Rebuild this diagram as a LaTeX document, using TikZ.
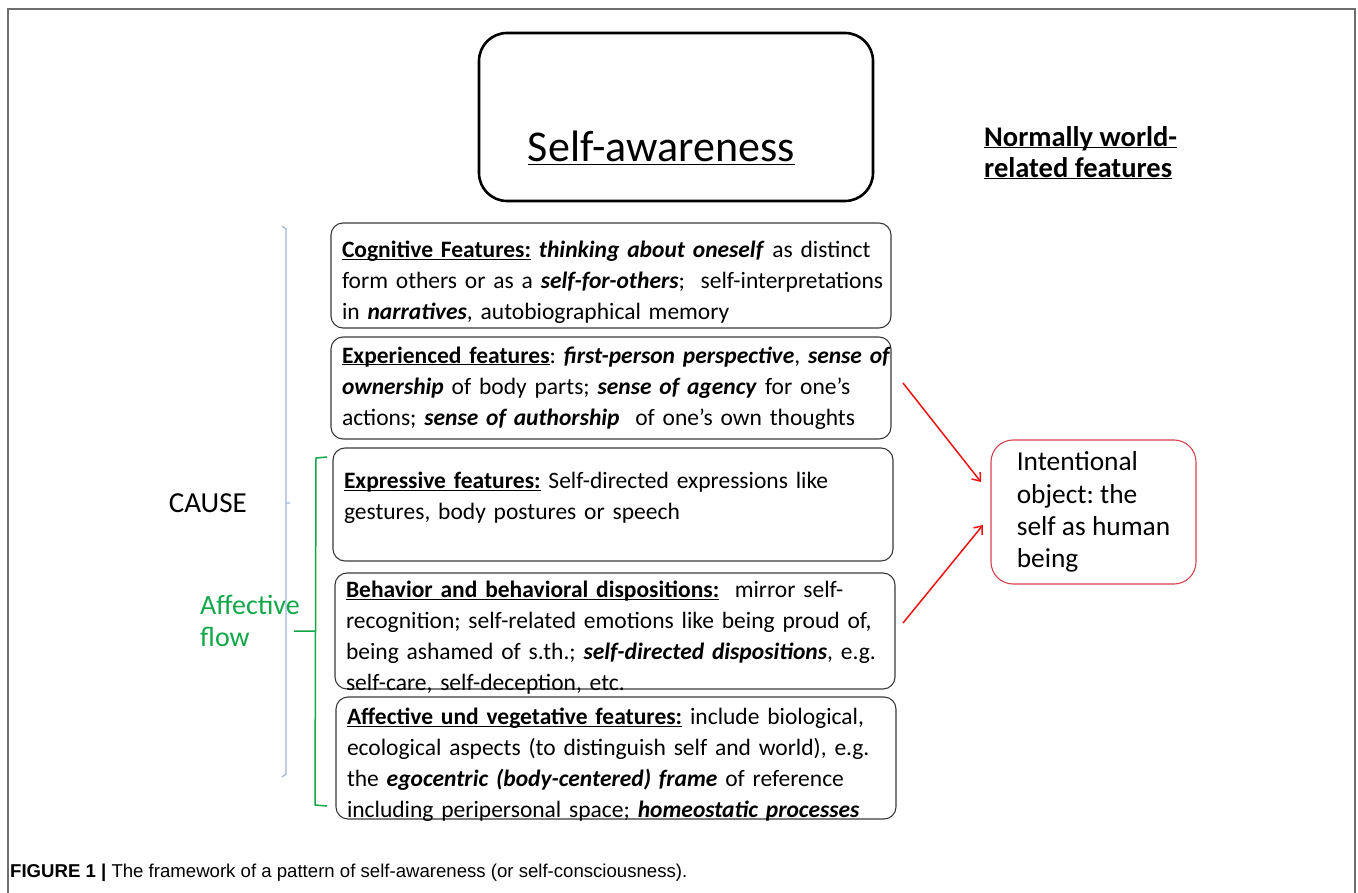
\documentclass[tikz,border=0pt]{standalone}
\usepackage{fontspec}
\setmainfont{Carlito}
\newfontfamily\capfont{Liberation Sans}
\usepackage{tikz}
\usetikzlibrary{arrows.meta}
\frenchspacing

\definecolor{rahmengrau}{HTML}{6E6E6E}
\definecolor{boxgrau}{HTML}{3A3A3A}
\definecolor{objektrot}{HTML}{D2424E}
\definecolor{pfeilrot}{HTML}{EE1111}
\definecolor{ursacheblau}{HTML}{9DB7D8}
\definecolor{affektgruen}{HTML}{12A84A}

\newcommand{\merk}[1]{\underline{\raisebox{0pt}[\height][0pt]{\textbf{#1}}}}
\newcommand{\betont}[1]{\textbf{\textit{#1}}}

\begin{document}
\begin{tikzpicture}[x=1pt,y=-1pt,>={Straight Barb[length=7pt,width=11pt]}]
	\tikzstyle{every node}=[font=\fontsize{23.5}{31}\selectfont]
	\tikzstyle{merkmal}=[draw=boxgrau, line width=1.1pt, rounded corners=12pt, minimum width=560pt, text width=538pt, align=left, inner xsep=11pt, inner ysep=0pt]
	\tikzstyle{tiefer}=[execute at end node={\vspace{-14pt}}]
	
	\useasboundingbox (0,0) rectangle (1358,893);
	
	%Rahmen
	\draw[rahmengrau, line width=1.5pt] (8,893) -- (8,9) -- (1355,9) -- (1355,893);
	
	%Titel
	\node[draw, line width=2.6pt, rounded corners=28pt, minimum width=394pt, minimum height=168pt] (titel) at (676,117) {};
	\node[anchor=base east, inner sep=0, font=\fontsize{44}{50}\selectfont] (titeltext) at (795,162) {\underline{Self-awareness}};
	\node[anchor=north west, inner sep=0, align=left, font=\bfseries\fontsize{28.5}{31}\selectfont] (welt) at (984,126) {\merk{Normally world-}\\\merk{related features}};
	
	%Merkmale
	\node[merkmal, tiefer, minimum height=105pt] (kognitiv) at (611,275.5) {\mbox{\merk{Cognitive Features:} \betont{thinking about oneself} as distinct}\\
		\mbox{form others or as a \betont{self-for-others}; \ self-interpretations}\\
		\mbox{in \betont{narratives}, autobiographical memory}};
	\node[merkmal, minimum height=102pt] (erlebt) at (611,388) {\mbox{\merk{Experienced features}: \betont{first-person perspective}, \betont{sense of}}\\
		\mbox{\betont{ownership} of body parts; \betont{sense of agency} for one’s}\\
		\mbox{actions; \betont{sense of authorship} \ of one’s own thoughts}};
	\node[merkmal, tiefer, minimum height=113pt] (ausdruck) at (613,504.5) {\mbox{\merk{Expressive features:} Self-directed expressions like}\\
		\mbox{gestures, body postures or speech}\\ \mbox{}};
	\node[merkmal, tiefer, minimum height=116pt] (verhalten) at (615,631) {\mbox{\merk{Behavior and behavioral dispositions:} \ mirror self-}\\
		\mbox{recognition; self-related emotions like being proud of,}\\
		\mbox{being ashamed of s.th.; \betont{self-directed dispositions}, e.g.}\\
		\mbox{self-care, self-deception, etc.}};
	\node[merkmal, tiefer, minimum height=122pt] (vegetativ) at (616,758) {\mbox{\merk{Affective und vegetative features:} include biological,}\\
		\mbox{ecological aspects (to distinguish self and world), e.g.}\\
		\mbox{the \betont{egocentric (body-centered) frame} of reference}\\
		\mbox{including peripersonal space; \betont{homeostatic processes}}};
	
	%Intentionales Objekt
	\node[draw=objektrot, line width=1.1pt, rounded corners=22pt, minimum width=205pt, minimum height=144pt, align=left, font=\fontsize{27.4}{32.3}\selectfont] (objekt) at (1093.5,512) {Intentional\\object: the\\self as human\\being};
	
	%Klammern
	\draw[ursacheblau, line width=1.2pt] (282,226) -- (286,229) -- (286,774) -- (282,777) (286,503) -- (290,503);
	\draw[affektgruen, line width=1.5pt] (327,457) -- (316,458) -- (315,805) -- (327,806) (315,631) -- (294,631);
	\node[anchor=base east, inner sep=0, font=\fontsize{29}{34}\selectfont] (ursache) at (247,512) {CAUSE};
	\node[anchor=north west, inner sep=0, align=left, text=affektgruen, font=\fontsize{28}{32}\selectfont] (fluss) at (200,595) {Affective\\flow};
	
	%Pfeile
	\coordinate (p1s) at (903,383);
	\coordinate (p1e) at (981,482);
	\coordinate (p2s) at (903,623);
	\coordinate (p2e) at (983,525);
	\draw[->, pfeilrot, line width=1.5pt] (p1s) -- (p1e);
	\draw[->, pfeilrot, line width=1.5pt] (p2s) -- (p2e);
	
	%Bildunterschrift
	\node[anchor=base west, inner sep=0, font=\capfont\fontsize{18.6}{21}\selectfont] (unterschrift) at (10,877) {\textbf{FIGURE 1 |} The framework of a pattern of self-awareness (or self-consciousness).};
\end{tikzpicture}
\end{document}
